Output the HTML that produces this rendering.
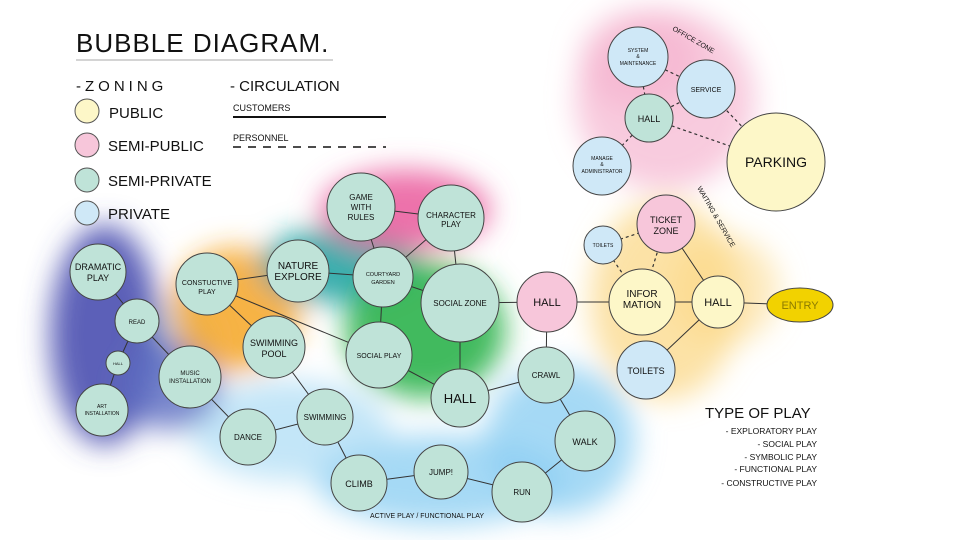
<!DOCTYPE html>
<html><head><meta charset="utf-8"><style>
html,body{margin:0;padding:0;background:#fff}
svg{display:block}
text{font-family:"Liberation Sans",sans-serif;fill:#111}
</style></head><body>
<svg width="960" height="540" viewBox="0 0 960 540" xmlns="http://www.w3.org/2000/svg">
<defs>
<filter id="b" x="-50%" y="-50%" width="200%" height="200%"><feGaussianBlur stdDeviation="14"/></filter>
</defs>
<g filter="url(#b)">
<ellipse cx="665" cy="100" rx="90" ry="90" fill="#f4a9c8" opacity="0.6"/>
<ellipse cx="640" cy="60" rx="60" ry="50" fill="#f4a9c8" opacity="0.5"/>
<ellipse cx="665" cy="300" rx="75" ry="100" fill="#fbd680" opacity="0.7"/>
<ellipse cx="725" cy="290" rx="55" ry="55" fill="#fbd680" opacity="0.5"/>
<ellipse cx="560" cy="440" rx="75" ry="75" fill="#8fd0f3" opacity="0.8"/>
<ellipse cx="440" cy="480" rx="125" ry="45" fill="#8fd0f3" opacity="0.8"/>
<ellipse cx="290" cy="430" rx="100" ry="50" fill="#a9dcf5" opacity="0.7"/>
<ellipse cx="175" cy="340" rx="40" ry="40" fill="#a9dcf5" opacity="0.6"/>
<ellipse cx="105" cy="335" rx="55" ry="110" fill="#4b4fb0" opacity="0.9"/>
<ellipse cx="170" cy="385" rx="50" ry="45" fill="#5a6cc0" opacity="0.8"/>
<ellipse cx="235" cy="310" rx="65" ry="62" fill="#f6a623" opacity="0.85"/>
<ellipse cx="340" cy="265" rx="80" ry="38" fill="#19a0a0" opacity="0.85"/>
<ellipse cx="425" cy="330" rx="80" ry="68" fill="#2bb24c" opacity="0.9"/>
<ellipse cx="405" cy="210" rx="85" ry="40" fill="#ea5a9c" opacity="0.85"/>
</g>
<text x="76" y="52" font-size="26" letter-spacing="1">BUBBLE DIAGRAM.</text>
<line x1="76" y1="60" x2="333" y2="60" stroke="#aaa" stroke-width="1"/>
<text x="76" y="91" font-size="15" letter-spacing="4">-ZONING</text>
<text x="230" y="91" font-size="15">- CIRCULATION</text>
<circle cx="87" cy="111" r="12" fill="#fdf7c8" stroke="#555"/>
<text x="109" y="118" font-size="15">PUBLIC</text>
<circle cx="87" cy="145" r="12" fill="#f7c6da" stroke="#555"/>
<text x="108" y="151" font-size="15">SEMI-PUBLIC</text>
<circle cx="87" cy="180" r="12" fill="#bfe3d8" stroke="#555"/>
<text x="108" y="186" font-size="15">SEMI-PRIVATE</text>
<circle cx="87" cy="213" r="12" fill="#cfe8f7" stroke="#555"/>
<text x="108" y="219" font-size="15">PRIVATE</text>
<text x="233" y="111" font-size="9">CUSTOMERS</text>
<line x1="233" y1="117" x2="386" y2="117" stroke="#111" stroke-width="2"/>
<text x="233" y="141" font-size="9">PERSONNEL</text>
<line x1="233" y1="147" x2="386" y2="147" stroke="#111" stroke-width="1.5" stroke-dasharray="8,7"/>
<g stroke="#333" stroke-width="1" fill="none">
<line x1="98" y1="272" x2="137" y2="321"/><line x1="137" y1="321" x2="118" y2="363"/><line x1="118" y1="363" x2="102" y2="410"/>
<line x1="137" y1="321" x2="190" y2="377"/><line x1="190" y1="377" x2="248" y2="437"/>
<line x1="207" y1="284" x2="298" y2="271"/><line x1="207" y1="284" x2="274" y2="347"/><line x1="207" y1="284" x2="379" y2="355"/>
<line x1="298" y1="271" x2="383" y2="277"/><line x1="361" y1="207" x2="451" y2="218"/><line x1="361" y1="207" x2="383" y2="277"/>
<line x1="451" y1="218" x2="383" y2="277"/><line x1="451" y1="218" x2="460" y2="303"/><line x1="383" y1="277" x2="460" y2="303"/>
<line x1="383" y1="277" x2="379" y2="355"/><line x1="379" y1="355" x2="460" y2="398"/><line x1="460" y1="303" x2="460" y2="398"/>
<line x1="460" y1="303" x2="547" y2="302"/><line x1="460" y1="398" x2="546" y2="375"/><line x1="547" y1="302" x2="546" y2="375"/>
<line x1="546" y1="375" x2="585" y2="441"/><line x1="585" y1="441" x2="522" y2="492"/><line x1="522" y1="492" x2="441" y2="472"/>
<line x1="441" y1="472" x2="359" y2="483"/><line x1="359" y1="483" x2="325" y2="417"/><line x1="325" y1="417" x2="248" y2="437"/>
<line x1="325" y1="417" x2="274" y2="347"/>
<line x1="547" y1="302" x2="642" y2="302"/><line x1="642" y1="302" x2="718" y2="302"/><line x1="718" y1="302" x2="800" y2="305"/>
<line x1="718" y1="302" x2="666" y2="224"/><line x1="718" y1="302" x2="646" y2="370"/>
</g>
<g stroke="#333" stroke-width="1.2" fill="none" stroke-dasharray="3,3">
<line x1="638" y1="57" x2="706" y2="89"/><line x1="638" y1="57" x2="649" y2="118"/><line x1="706" y1="89" x2="649" y2="118"/>
<line x1="649" y1="118" x2="602" y2="166"/><line x1="649" y1="118" x2="776" y2="162"/><line x1="706" y1="89" x2="776" y2="162"/>
<line x1="603" y1="245" x2="666" y2="224"/><line x1="603" y1="245" x2="642" y2="302"/><line x1="666" y1="224" x2="642" y2="302"/>
</g>
<g stroke="#444" stroke-width="1">
<circle cx="98" cy="272" r="28" fill="#bfe3d8"/>
<circle cx="137" cy="321" r="22" fill="#bfe3d8"/>
<circle cx="118" cy="363" r="12" fill="#bfe3d8"/>
<circle cx="102" cy="410" r="26" fill="#bfe3d8"/>
<circle cx="190" cy="377" r="31" fill="#bfe3d8"/>
<circle cx="207" cy="284" r="31" fill="#bfe3d8"/>
<circle cx="298" cy="271" r="31" fill="#bfe3d8"/>
<circle cx="361" cy="207" r="34" fill="#bfe3d8"/>
<circle cx="451" cy="218" r="33" fill="#bfe3d8"/>
<circle cx="383" cy="277" r="30" fill="#bfe3d8"/>
<circle cx="460" cy="303" r="39" fill="#bfe3d8"/>
<circle cx="274" cy="347" r="31" fill="#bfe3d8"/>
<circle cx="379" cy="355" r="33" fill="#bfe3d8"/>
<circle cx="460" cy="398" r="29" fill="#bfe3d8"/>
<circle cx="325" cy="417" r="28" fill="#bfe3d8"/>
<circle cx="248" cy="437" r="28" fill="#bfe3d8"/>
<circle cx="359" cy="483" r="28" fill="#bfe3d8"/>
<circle cx="441" cy="472" r="27" fill="#bfe3d8"/>
<circle cx="522" cy="492" r="30" fill="#bfe3d8"/>
<circle cx="546" cy="375" r="28" fill="#bfe3d8"/>
<circle cx="585" cy="441" r="30" fill="#bfe3d8"/>
<circle cx="638" cy="57" r="30" fill="#cfe8f7"/>
<circle cx="706" cy="89" r="29" fill="#cfe8f7"/>
<circle cx="649" cy="118" r="24" fill="#bfe3d8"/>
<circle cx="602" cy="166" r="29" fill="#cfe8f7"/>
<circle cx="776" cy="162" r="49" fill="#fdf7c8"/>
<circle cx="666" cy="224" r="29" fill="#f7c6da"/>
<circle cx="603" cy="245" r="19" fill="#cfe8f7"/>
<circle cx="642" cy="302" r="33" fill="#fdf7c8"/>
<circle cx="718" cy="302" r="26" fill="#fdf7c8"/>
<circle cx="547" cy="302" r="30" fill="#f7c6da"/>
<circle cx="646" cy="370" r="29" fill="#cfe8f7"/>
<ellipse cx="800" cy="305" rx="33" ry="17" fill="#f2d200"/>
</g>
<g text-anchor="middle">
<text x="98" y="270" font-size="9">DRAMATIC</text><text x="98" y="281" font-size="9">PLAY</text>
<text x="137" y="324" font-size="6">READ</text>
<text x="118" y="365" font-size="4">HALL</text>
<text x="102" y="408" font-size="5">ART</text><text x="102" y="415" font-size="5">INSTALLATION</text>
<text x="190" y="375" font-size="6">MUSIC</text><text x="190" y="383" font-size="6">INSTALLATION</text>
<text x="207" y="285" font-size="7">CONSTUCTIVE</text><text x="207" y="294" font-size="7">PLAY</text>
<text x="298" y="269" font-size="10">NATURE</text><text x="298" y="280" font-size="10">EXPLORE</text>
<text x="361" y="200" font-size="8">GAME</text><text x="361" y="210" font-size="8">WITH</text><text x="361" y="220" font-size="8">RULES</text>
<text x="451" y="218" font-size="8">CHARACTER</text><text x="451" y="227" font-size="8">PLAY</text>
<text x="383" y="276" font-size="5.5">COURTYARD</text><text x="383" y="284" font-size="5.5">GARDEN</text>
<text x="460" y="306" font-size="8">SOCIAL ZONE</text>
<text x="274" y="346" font-size="9">SWIMMING</text><text x="274" y="357" font-size="9">POOL</text>
<text x="379" y="358" font-size="7">SOCIAL PLAY</text>
<text x="460" y="403" font-size="13">HALL</text>
<text x="325" y="420" font-size="8">SWIMMING</text>
<text x="248" y="440" font-size="8">DANCE</text>
<text x="359" y="487" font-size="9">CLIMB</text>
<text x="441" y="475" font-size="8">JUMP!</text>
<text x="522" y="495" font-size="8">RUN</text>
<text x="546" y="378" font-size="8">CRAWL</text>
<text x="585" y="445" font-size="9">WALK</text>
<text x="427" y="518" font-size="7">ACTIVE PLAY / FUNCTIONAL PLAY</text>
<text x="638" y="52" font-size="5">SYSTEM</text><text x="638" y="58" font-size="5">&amp;</text><text x="638" y="65" font-size="5">MAINTENANCE</text>
<text x="706" y="92" font-size="7">SERVICE</text>
<text x="649" y="122" font-size="9">HALL</text>
<text x="602" y="160" font-size="5">MANAGE</text><text x="602" y="166" font-size="5">&amp;</text><text x="602" y="173" font-size="5">ADMINISTRATOR</text>
<text x="776" y="167" font-size="14">PARKING</text>
<text x="666" y="223" font-size="9">TICKET</text><text x="666" y="234" font-size="9">ZONE</text>
<text x="603" y="247" font-size="5">TOILETS</text>
<text x="642" y="297" font-size="10">INFOR</text><text x="642" y="308" font-size="10">MATION</text>
<text x="718" y="306" font-size="11">HALL</text>
<text x="547" y="306" font-size="11">HALL</text>
<text x="646" y="374" font-size="9">TOILETS</text>
<text x="800" y="309" font-size="11" style="fill:#8a7a00">ENTRY</text>
</g>
<text x="672" y="30" font-size="7" transform="rotate(30 672 30)">OFFICE ZONE</text>
<text x="697" y="188" font-size="7" transform="rotate(60 697 188)">WAITING &amp; SERVICE</text>
<text x="705" y="418" font-size="15">TYPE OF PLAY</text>
<g text-anchor="end" font-size="8.5">
<text x="817" y="434">- EXPLORATORY PLAY</text>
<text x="817" y="447">- SOCIAL PLAY</text>
<text x="817" y="460">- SYMBOLIC PLAY</text>
<text x="817" y="472">- FUNCTIONAL PLAY</text>
<text x="817" y="486">- CONSTRUCTIVE PLAY</text>
</g>
</svg>
</body></html>
